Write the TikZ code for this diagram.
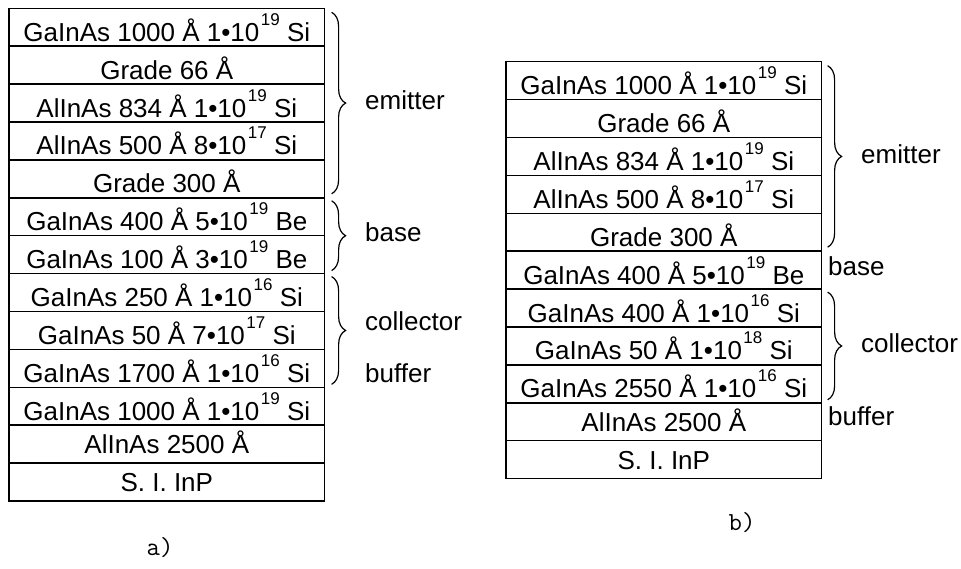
\documentclass[tikz,border=0pt]{standalone}
\usepackage{fontspec}
\setmainfont{Liberation Sans}
\usetikzlibrary{decorations.pathreplacing}
% raised doping exponent
\newcommand\dop[1]{\kern1.5pt\raisebox{16pt}{\fontsize{17}{17}\selectfont #1}}
\begin{document}
\begin{tikzpicture}[x=1pt,y=-1pt,
  cell/.style={draw=black, line width=1.5pt, minimum width=315.6pt,
    minimum height=37.9pt, inner sep=0pt, outer sep=0pt, anchor=north west},
  txt/.style={font=\fontsize{26}{30}\selectfont, inner sep=0pt, anchor=base},
  tag/.style={font=\fontsize{26}{30}\selectfont, inner sep=0pt, anchor=base west},
  caption/.style={font=\ttfamily\fontsize{26}{28}\selectfont, inner sep=0pt},
  brc/.style={decorate, decoration={brace, amplitude=14pt}, line width=1.2pt}]
\useasboundingbox (0,0) rectangle (961,568);

% structure a)
\foreach \t/\o [count=\i] in {
  GaInAs 1000 Å 1•10\dop{19} Si/5,
  Grade 66 Å/5,
  AlInAs 834 Å 1•10\dop{19} Si/5,
  AlInAs 500 Å 8•10\dop{17} Si/5,
  Grade 300 Å/5,
  GaInAs 400 Å 5•10\dop{19} Be/5,
  GaInAs 100 Å 3•10\dop{19} Be/5,
  GaInAs 250 Å 1•10\dop{16} Si/5,
  GaInAs 50 Å 7•10\dop{17} Si/5,
  GaInAs 1700 Å 1•10\dop{16} Si/5,
  GaInAs 1000 Å 1•10\dop{19} Si/5,
  AlInAs 2500 Å/9.3,
  S. I. InP/9.3}{
  \node[cell] (a\i) at (9,{8.3+37.9*(\i-1)}) {};
  \node[txt] (a\i t) at ([yshift=\o pt]a\i.south) {\t};
}

% structure b)
\foreach \t/\o [count=\i] in {
  GaInAs 1000 Å 1•10\dop{19} Si/5,
  Grade 66 Å/5,
  AlInAs 834 Å 1•10\dop{19} Si/5,
  AlInAs 500 Å 8•10\dop{17} Si/5,
  Grade 300 Å/5,
  GaInAs 400 Å 5•10\dop{19} Be/5,
  GaInAs 400 Å 1•10\dop{16} Si/5,
  GaInAs 50 Å 1•10\dop{18} Si/5,
  GaInAs 2550 Å 1•10\dop{16} Si/5,
  AlInAs 2500 Å/9.3,
  S. I. InP/9.3}{
  \node[cell] (b\i) at (506,{61.7+37.9*(\i-1)}) {};
  \node[txt] (b\i t) at ([yshift=\o pt]b\i.south) {\t};
}

% braces of a)
\draw[brc] ([xshift=7pt,yshift=-4pt]a1.north east) -- ([xshift=7pt,yshift=4pt]a5.south east);
\draw[brc] ([xshift=7pt,yshift=-3pt]a6.north east) -- ([xshift=7pt,yshift=3pt]a7.south east);
\draw[brc] ([xshift=7pt,yshift=-3pt]a8.north east) -- ([xshift=7pt,yshift=3pt]a10.south east);
\node[tag] (ae) at (365,109) {emitter};
\node[tag] (ab) at (365,241) {base};
\node[tag] (ac) at (365,330) {collector};
\node[tag] (af) at (365,382) {buffer};

% braces of b)
\draw[brc] ([xshift=6pt,yshift=-4pt]b1.north east) -- ([xshift=6pt,yshift=4pt]b5.south east);
\draw[brc] ([xshift=6pt,yshift=-3pt]b7.north east) -- ([xshift=6pt,yshift=3pt]b9.south east);
\node[tag] (be) at (861,163) {emitter};
\node[tag] (bb) at (828,275) {base};
\node[tag] (bc) at (861,352) {collector};
\node[tag] (bf) at (828,425) {buffer};

% captions
\node[caption] (capa) at (160,548) {a)};
\node[caption] (capb) at (742,523) {b)};
\end{tikzpicture}
\end{document}
